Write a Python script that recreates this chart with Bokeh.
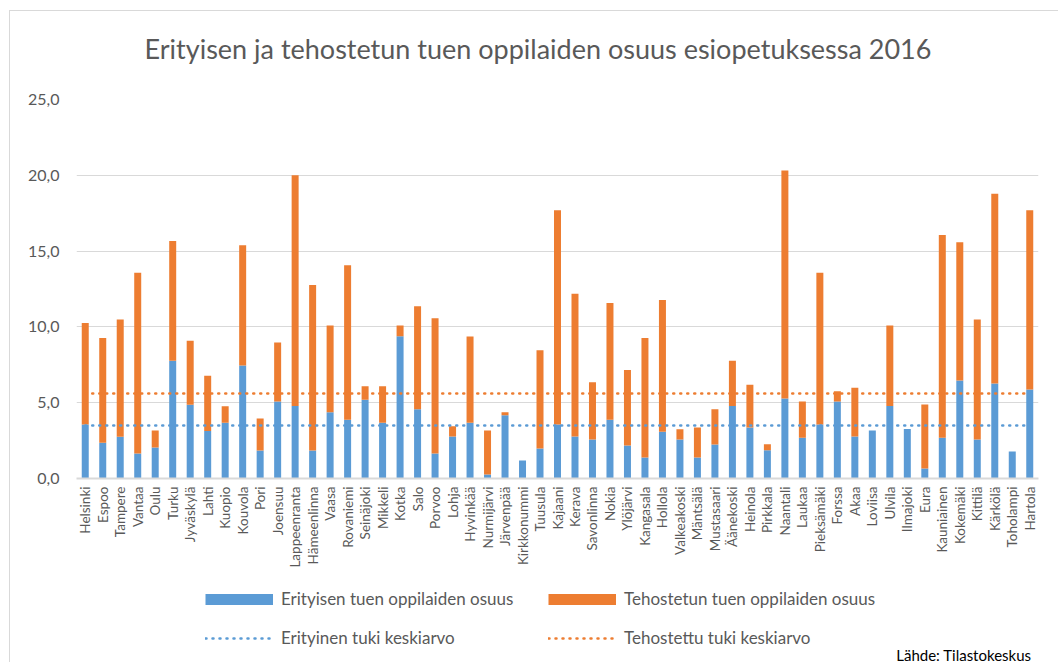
from bokeh.plotting import figure
from bokeh.layouts import column
from bokeh.models import FactorRange, Range1d, Legend, LegendItem, Label, FixedTicker
from bokeh.embed import file_html
from bokeh.resources import INLINE
from math import pi

kunnat = ["Helsinki", "Espoo", "Tampere", "Vantaa", "Oulu", "Turku", "Jyväskylä", "Lahti",
          "Kuopio", "Kouvola", "Pori", "Joensuu", "Lappeenranta", "Hämeenlinna", "Vaasa",
          "Rovaniemi", "Seinäjoki", "Mikkeli", "Kotka", "Salo", "Porvoo", "Lohja", "Hyvinkää",
          "Nurmijärvi", "Järvenpää", "Kirkkonummi", "Tuusula", "Kajaani", "Kerava", "Savonlinna",
          "Nokia", "Ylöjärvi", "Kangasala", "Hollola", "Valkeakoski", "Mäntsälä", "Mustasaari",
          "Äänekoski", "Heinola", "Pirkkala", "Naantali", "Laukaa", "Pieksämäki", "Forssa",
          "Akaa", "Loviisa", "Ulvila", "Ilmajoki", "Eura", "Kauniainen", "Kokemäki", "Kittilä",
          "Kärkölä", "Toholampi", "Hartola"]

erityinen = [3.56, 2.35, 2.75, 1.65, 2.04, 7.76, 4.86, 3.14, 3.67, 7.45, 1.85, 5.08, 4.79,
             1.85, 4.37, 3.87, 5.19, 3.67, 9.38, 4.57, 1.65, 2.77, 3.67, 0.26, 4.18, 1.19,
             1.98, 3.56, 2.77, 2.57, 3.87, 2.18, 1.38, 3.08, 2.57, 1.38, 2.24, 4.79, 3.36,
             1.87, 5.27, 2.68, 3.56, 5.08, 2.77, 3.16, 4.79, 3.27, 0.66, 2.68, 6.46, 2.57,
             6.26, 1.78, 5.87]

tehostettu = [6.70, 6.92, 7.73, 11.93, 1.12, 7.91, 4.22, 3.63, 1.10, 7.93, 2.11, 3.89, 15.21,
              10.92, 5.72, 10.20, 0.90, 2.42, 0.71, 6.79, 8.92, 0.68, 5.69, 2.90, 0.19, 0.0,
              6.48, 14.13, 9.41, 3.78, 7.71, 4.98, 7.89, 8.70, 0.68, 1.98, 2.33, 2.97, 2.82,
              0.39, 15.04, 2.40, 10.02, 0.68, 3.21, 0.0, 5.30, 0.0, 4.22, 13.39, 9.12, 7.91,
              12.53, 0.0, 11.82]

erityinen_ka = 3.5
tehostettu_ka = 5.6

y_ticks = [0, 5, 10, 15, 20, 25]
y_tick_labels = ["0,0", "5,0", "10,0", "15,0", "20,0", "25,0"]

otsikko = "Erityisen ja tehostetun tuen oppilaiden osuus esiopetuksessa 2016"
sarjat = ["Erityisen tuen oppilaiden osuus", "Tehostetun tuen oppilaiden osuus",
          "Erityinen tuki keskiarvo", "Tehostettu tuki keskiarvo"]
lahde = "Lähde: Tilastokeskus"

BLUE = "#5b9bd5"
ORANGE = "#ed7d31"
GREY = "#595959"
FONT = "Lato"
W = 1048
H0, H1, H2 = 60, 504, 87
BL, BR = 66, 20   # left / right borders shared by all three figures


def strip(h):
    f = figure(width=W, height=h, x_range=Range1d(BL, W - BR), y_range=Range1d(0, h),
               output_backend="svg", toolbar_location=None, x_axis_location=None,
               y_axis_location=None, min_border_left=BL, min_border_right=BR,
               min_border_top=0, min_border_bottom=0)
    f.outline_line_color = None
    f.grid.visible = False
    return f


# ---- title strip
p0 = strip(H0)
p0.add_layout(Label(x=527.5, y=23, text=otsikko, text_align="center", text_baseline="middle",
                    text_font=FONT, text_font_size="27px", text_color=GREY))

# ---- main chart
p = figure(width=W, height=H1, x_range=FactorRange(*kunnat, range_padding=0),
           y_range=Range1d(0, 25), output_backend="svg", toolbar_location=None,
           min_border_left=BL, min_border_right=BR, min_border_top=28, min_border_bottom=97)
p.outline_line_color = None

data = dict(kunta=kunnat, erityinen=erityinen, tehostettu=tehostettu)
p.vbar_stack(["erityinen", "tehostettu"], x="kunta", width=0.4, source=data,
             color=[BLUE, ORANGE], line_color=None)

p.line(x=kunnat, y=[erityinen_ka] * len(kunnat), line_color=BLUE, line_width=2.5,
       line_dash="1 6", line_cap="round")
p.line(x=kunnat, y=[tehostettu_ka] * len(kunnat), line_color=ORANGE, line_width=2.5,
       line_dash="1 6", line_cap="round")

p.xaxis.major_label_orientation = pi / 2
p.xaxis.major_label_text_font = FONT
p.xaxis.major_label_text_font_size = "13.5px"
p.xaxis.major_label_text_color = GREY
p.xaxis.major_tick_line_color = None
p.xaxis.minor_tick_line_color = None
p.xaxis.major_tick_out = 0
p.xaxis.major_tick_in = 0
p.xaxis.axis_line_color = "#d9d9d9"
p.xaxis.axis_line_width = 2
p.xaxis.major_label_standoff = 8

p.yaxis.ticker = FixedTicker(ticks=y_ticks)
p.yaxis.major_label_overrides = {t: s for t, s in zip(y_ticks, y_tick_labels)}
p.yaxis.major_label_text_font = FONT
p.yaxis.major_label_text_font_size = "16px"
p.yaxis.major_label_text_color = GREY
p.yaxis.axis_line_color = None
p.yaxis.major_tick_line_color = None
p.yaxis.minor_tick_line_color = None
p.yaxis.major_tick_out = 0
p.yaxis.major_tick_in = 0
p.yaxis.major_label_standoff = 17

p.xgrid.grid_line_color = None
p.ygrid.grid_line_color = "#d9d9d9"
p.ygrid.grid_line_width = 1
p.ygrid.ticker = FixedTicker(ticks=y_ticks)

# ---- legend strip (legend proxies lie outside the visible range)
p2 = strip(H2)
off_x, off_y = [-50, -40], [-50, -50]
d1 = p2.line(x=off_x, y=off_y, line_color=BLUE, line_width=11)
d2 = p2.line(x=off_x, y=off_y, line_color=ORANGE, line_width=11)
l1 = p2.line(x=off_x, y=off_y, line_color=BLUE, line_width=2.5, line_dash="1 6",
             line_cap="round")
l2 = p2.line(x=off_x, y=off_y, line_color=ORANGE, line_width=2.5, line_dash="1 6",
             line_cap="round")


def mk_legend(items, x, y):
    lg = Legend(items=items, location=(x, y), orientation="vertical",
                glyph_width=68, glyph_height=20, label_height=20, label_standoff=8,
                spacing=18, padding=0, margin=0, border_line_color=None,
                background_fill_alpha=0, label_text_font=FONT,
                label_text_font_size="17px", label_text_color=GREY)
    p2.add_layout(lg, "center")


mk_legend([LegendItem(label=sarjat[0], renderers=[d1]),
           LegendItem(label=sarjat[2], renderers=[l1])], 195 - BL, 14)
mk_legend([LegendItem(label=sarjat[1], renderers=[d2]),
           LegendItem(label=sarjat[3], renderers=[l2])], 538 - BL, 14)

p2.add_layout(Label(x=1021, y=8, text=lahde, text_align="right", text_baseline="middle",
                    text_font=FONT, text_font_size="15px", text_color="#000000"))

layout = column(p0, p, p2, spacing=0,
                styles={"margin-left": "9px", "margin-top": "10px",
                        "border-left": "1px solid #d9d9d9", "border-top": "1px solid #d9d9d9"})

open("out.html", "w").write(file_html(layout, INLINE))
